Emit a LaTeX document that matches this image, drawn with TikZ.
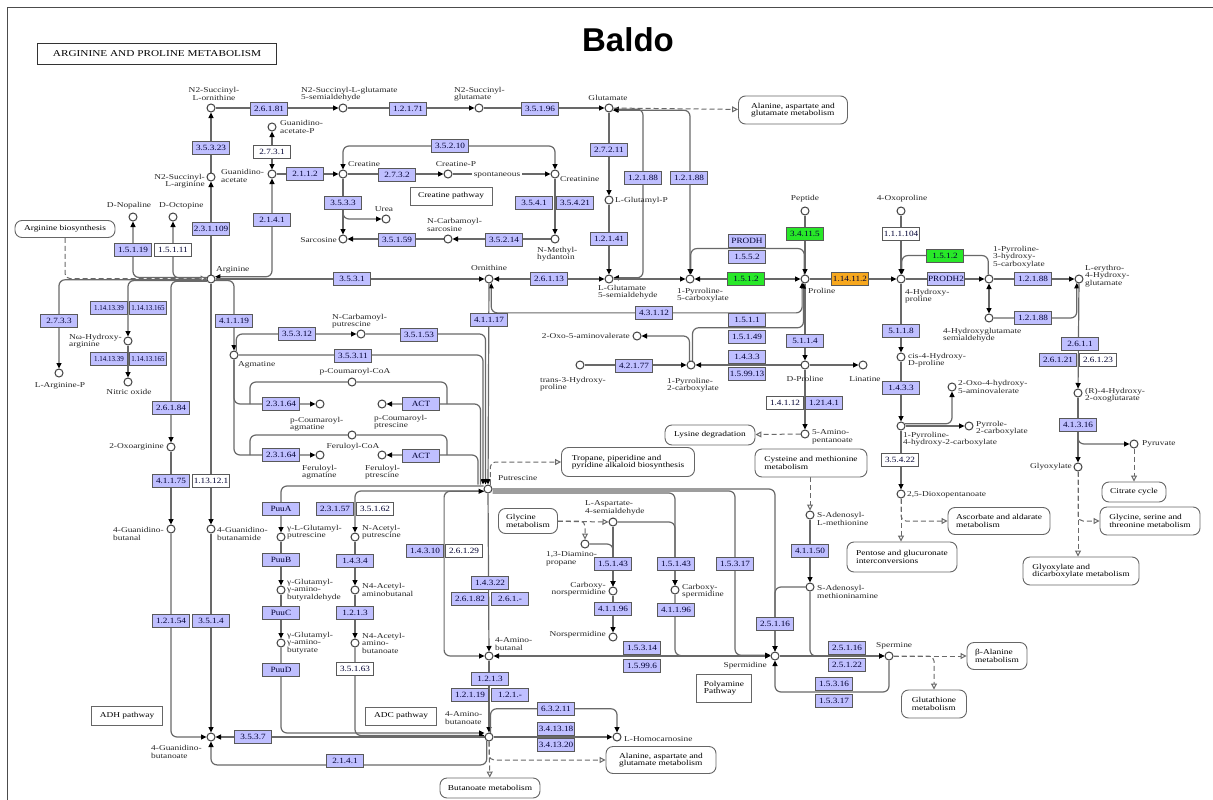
\documentclass[tikz,border=0pt]{standalone}
\usepackage{fontspec}
\setmainfont{Liberation Serif}[FakeStretch=1.25]
\newfontfamily\ecfont{Liberation Serif}[FakeStretch=1.15]
\newfontfamily\ecnarrowfont{Liberation Serif}[FakeStretch=0.92]
\newfontfamily\titlefont{Liberation Sans}
\usetikzlibrary{arrows.meta,backgrounds}

\definecolor{ecblue}{RGB}{191,191,255}
\definecolor{ecgreen}{RGB}{40,232,40}
\definecolor{ecorange}{RGB}{247,168,30}
\definecolor{linegray}{RGB}{105,105,105}

\tikzset{%
		every cpd/.style={
			circle,
			draw=black!75,
			fill=white,
			line width=1pt,
			minimum size=8pt,
			inner sep=0pt
		},
		every ec/.style={
			rectangle,
			draw=black!65,
			fill=ecblue,
			line width=0.8pt,
			minimum width=37pt,
			minimum height=13pt,
			inner sep=0pt,
			text=black!80!blue,
			font=\ecfont\fontsize{8}{8}\selectfont
		},
		ec b/.style={},
		ec w/.style={fill=white},
		ec g/.style={fill=ecgreen},
		ec o/.style={fill=ecorange},
		ec n/.style={font=\ecnarrowfont\fontsize{7.6}{7.6}\selectfont},
		cpd text/.style={
			inner sep=0pt,
			text=black!85,
			font=\fontsize{7.5}{7.5}\selectfont
		},
		lbl west/.style={anchor=west, align=left},
		lbl east/.style={anchor=east, align=right},
		lbl center/.style={anchor=center, align=center},
		map box/.style={
			rounded corners=7pt,
			draw=black!60,
			fill=white,
			line width=0.9pt,
			inner sep=0pt,
			align=left,
			font=\fontsize{7.5}{7.5}\selectfont
		},
		plain box/.style={
			draw=black!60,
			fill=white,
			line width=0.9pt,
			inner sep=0pt,
			align=left,
			font=\fontsize{7.5}{7.5}\selectfont
		},
		rxn/.style={draw=linegray, line width=1.2pt, rounded corners=6pt},
		link/.style={
			draw=linegray,
			line width=1pt,
			rounded corners=5pt,
			dash pattern=on 5pt off 3pt,
			-{Triangle[open, length=6pt, width=6pt, fill=white]}
		},
	}

\begin{document}
\begin{tikzpicture}[x=1pt, y=-1pt, >={Triangle[length=5.5pt, width=5pt, color=black]}]
			\useasboundingbox (0,0) rectangle (1213,800);
			
			% frame and title
			\draw[black!70, line width=1pt] (7,800) -- (7,8) -- (1213,8);
			\node[draw=black!80, line width=1.5pt, minimum width=239, minimum height=21, inner sep=0pt,
			font=\fontsize{9}{9}\selectfont] (maptitle) at (157,54) {ARGININE AND PROLINE METABOLISM};
			\node[font=\titlefont\bfseries\fontsize{33}{33}\selectfont] (baldo) at (628,40) {Baldo};
			
			% draw enzyme boxes
			\foreach \n/\x/\y/\txt/\col in {
				e26181/269/109/2.6.1.81/b, e12171/408/109/1.2.1.71/b, e35196/540/109/3.5.1.96/b,
				e27211/609/150/2.7.2.11/b, e12188a/643/178/1.2.1.88/b, e12188b/689/178/1.2.1.88/b,
				e12141/609/239/1.2.1.41/b, e35323/211/148/3.5.3.23/b, e231109/211/229/2.3.1.109/b,
				e2731/272/152/2.7.3.1/w, e2141a/272/220/2.1.4.1/b, e2112/305/174/2.1.1.2/b,
				e2732/397/175/2.7.3.2/b, e35210/450/146/3.5.2.10/b, e3533/343/203/3.5.3.3/b,
				e35159/397/240/3.5.1.59/b, e35214/504/240/3.5.2.14/b, e3541/534/203/3.5.4.1/b,
				e35421/575/203/3.5.4.21/b, e15119/133/250/1.5.1.19/b, e15111/173/250/1.5.1.11/w,
				e3531/352/279/3.5.3.1/b, e26113/549/279/2.6.1.13/b, e1512a/746/279/1.5.1.2/g,
				eprodh/747/241/PRODH/b, e1552/747/257/1.5.5.2/b, e34115/805/234/3.4.11.5/g,
				e114112/850/279/1.14.11.2/o, e111104/901/234/1.1.1.104/w, e1512b/945/256/1.5.1.2/g,
				eprodhb/946/279/PRODH2/b, e12188c/1033/279/1.2.1.88/b, e12188d/1033/318/1.2.1.88/b,
				e2611/1080/344/2.6.1.1/b, e26121/1058/360/2.6.1.21/b, e26123/1098/360/2.6.1.23/w,
				e41316/1078/425/4.1.3.16/b, e5118/901/331/5.1.1.8/b, e1433a/901/388/1.4.3.3/b,
				e35422/900/460/3.5.4.22/w, e5114/805/341/5.1.1.4/b, e14112/785/403/1.4.1.12/w,
				e121041/824/403/1.21.4.1/b, e43112/654/313/4.3.1.12/b, e1511/747/320/1.5.1.1/b,
				e15149/747/337/1.5.1.49/b, e1433b/747/357/1.4.3.3/b, e159913/747/374/1.5.99.13/b,
				e42177/634/366/4.2.1.77/b, e41150/810/551/4.1.1.50/b, e2733/59/321/2.7.3.3/b,
				e1141339a/109/308/1.14.13.39/n, e11413165a/148/308/1.14.13.165/n,
				e1141339b/109/359/1.14.13.39/n, e11413165b/148/359/1.14.13.165/n,
				e26184/171/408/2.6.1.84/b, e41175/171/481/4.1.1.75/b, e113121/211/481/1.13.12.1/w,
				e12154/171/621/1.2.1.54/b, e3514/211/621/3.5.1.4/b, e3537/253/737/3.5.3.7/b,
				e2141b/345/761/2.1.4.1/b, e41119/234/321/4.1.1.19/b, e35312/297/334/3.5.3.12/b,
				e35153/419/335/3.5.1.53/b, e35311/353/356/3.5.3.11/b, e41117/489/320/4.1.1.17/b,
				e23164a/281/404/2.3.1.64/b, eacta/421/404/ACT/b, e23164b/281/455/2.3.1.64/b,
				eactb/421/456/ACT/b, epuua/281/509/PuuA/b, e23157/335/509/2.3.1.57/b,
				e35162/375/509/3.5.1.62/w, epuub/281/560/PuuB/b, epuuc/281/613/PuuC/b,
				epuud/281/670/PuuD/b, e1434/355/561/1.4.3.4/b, e1213a/355/613/1.2.1.3/b,
				e35163/355/669/3.5.1.63/w, e14310/425/551/1.4.3.10/b, e26129/464/551/2.6.1.29/w,
				e14322/490/583/1.4.3.22/b, e26182/470/599/2.6.1.82/b, e261x/510/599/2.6.1.-/b,
				e1213b/490/679/1.2.1.3/b, e12119/470/695/1.2.1.19/b, e121x/510/695/1.2.1.-/b,
				e63211/556/709/6.3.2.11/b, e341318/556/729/3.4.13.18/b, e341320/556/745/3.4.13.20/b,
				e15143a/613/564/1.5.1.43/b, e41196a/613/609/4.1.1.96/b, e15143b/676/564/1.5.1.43/b,
				e41196b/676/610/4.1.1.96/b, e15317a/735/564/1.5.3.17/b, e25116a/775/624/2.5.1.16/b,
				e15314/642/648/1.5.3.14/b, e15996/642/666/1.5.99.6/b, e25116b/847/648/2.5.1.16/b,
				e25122/847/665/2.5.1.22/b, e15316/834/684/1.5.3.16/b, e15317b/834/701/1.5.3.17/b}
			\node [every ec/.try, ec \col/.try] (\n) at (\x,\y) {\txt};
			
			% draw compounds
			\foreach \n/\x/\y in {
				sorn/211/108, sgsa/343/108, sglu/479/108, glu/609/108, garg/211/177,
				gaap/272/127, gaa/272/174, crt/343/174, crtp/448/174, crn/555/174,
				urea/386/219, sar/343/239, ncs/448/239, nmh/555/239, glup/609/200,
				nop/133/217, oct/173/217, arg/211/279, orn/489/279, gsa/609/279,
				p5c/690/279, pro/805/279, pep/805/211, oxp/901/211, hyp/901/279,
				p3h/989/279, ery/1079/279, hgs/989/318, hog/1078/393, glx/1078/467,
				pyr/1134/444, chp/901/357, p4h/901/426, oha/952/387, pyc/969/426,
				dox/901/494, dpro/805/365, lin/863/365, p2c/691/365, oxv/637/336,
				t3h/580/365, ama/805/434, sam/810/515, sama/810/587, argp/59/373,
				nha/128/341, no/128/382, oxa/171/447, gbal/171/529, gbam/211/529,
				gbat/211/737, agm/234/355, ncp/361/334, pcoa/352/382, pca/320/404,
				pcp/382/404, fcoa/352/435, fa/320/455, fp/382/455, put/488/489,
				glp/281/537, ggb/281/590, gga/281/643, acp/355/537, aab/355/590,
				aabt/355/643, asp/613/522, dap/585/544, cnsp/613/591, nspd/613/637,
				cspd/675/590, spd/775/656, spm/889/656, gabal/489/656, gaba/489/737,
				hcar/617/737}
			\node [every cpd/.try] (\n) at (\x,\y) {};
			
			% annotate compounds
			\foreach \n/\anc/\x/\y/\txt in {
				sorn/center/214/94/{N2-Succinyl-\\L-ornithine},
				sgsa/west/301/94/{N2-Succinyl-L-glutamate\\5-semialdehyde},
				sglu/west/454/94/{N2-Succinyl-\\glutamate},
				glu/center/608/98/Glutamate,
				gaap/west/280/127/{Guanidino-\\acetate-P},
				gaa/west/221/176/{Guanidino-\\acetate},
				garg/east/205/181/{N2-Succinyl-\\L-arginine},
				crt/west/348/164/Creatine, crtp/center/456/164/Creatine-P,
				crn/west/560/179/Creatinine, urea/center/384/209/Urea,
				sar/east/337/240/Sarcosine,
				ncs/west/427/225/{N-Carbamoyl-\\sarcosine},
				nmh/west/537/254/{N-Methyl-\\hydantoin},
				glup/west/615/201/L-Glutamyl-P,
				nop/center/129/206/D-Nopaline, oct/west/159/206/D-Octopine,
				arg/west/216/270/Arginine, orn/center/489/268/Ornithine,
				gsa/west/598/292/{L-Glutamate\\5-semialdehyde},
				p5c/west/677/295/{1-Pyrroline-\\5-carboxylate},
				pro/west/808/291/Proline, pep/center/805/199/Peptide,
				oxp/center/902/199/4-Oxoproline,
				hyp/west/905/296/{4-Hydroxy-\\proline},
				p3h/west/993/257/{1-Pyrroline-\\3-hydroxy-\\5-carboxylate},
				ery/west/1085/276/{L-erythro-\\4-Hydroxy-\\glutamate},
				hgs/west/943/335/{4-Hydroxyglutamate\\semialdehyde},
				hog/west/1085/395/{(R)-4-Hydroxy-\\2-oxoglutarate},
				glx/east/1072/467/Glyoxylate, pyr/west/1142/444/Pyruvate,
				chp/west/908/360/{cis-4-Hydroxy-\\D-proline},
				p4h/west/903/439/{1-Pyrroline-\\4-hydroxy-2-carboxylate},
				oha/west/958/387/{2-Oxo-4-hydroxy-\\5-aminovalerate},
				pyc/west/976/428/{Pyrrole-\\2-carboxylate},
				dox/west/907/495/{2,5-Dioxopentanoate},
				dpro/center/805/379/D-Proline, lin/center/865/379/Linatine,
				p2c/west/667/385/{1-Pyrroline-\\2-carboxylate},
				oxv/east/630/336/2-Oxo-5-aminovalerate,
				t3h/west/540/384/{trans-3-Hydroxy-\\proline},
				ama/west/812/437/{5-Amino-\\pentanoate},
				sam/west/817/519/{S-Adenosyl-\\L-methionine},
				sama/west/817/592/{S-Adenosyl-\\methioninamine},
				argp/center/60/386/L-Arginine-P,
				nha/west/69/341/{Nω-Hydroxy-\\arginine},
				no/center/129/392/Nitric oxide,
				oxa/east/164/447/2-Oxoarginine,
				gbal/west/113/534/{4-Guanidino-\\butanal},
				gbam/west/217/534/{4-Guanidino-\\butanamide},
				gbat/west/151/752/{4-Guanidino-\\butanoate},
				agm/west/238/365/Agmatine,
				ncp/west/332/321/{N-Carbamoyl-\\putrescine},
				pcoa/center/355/372/p-Coumaroyl-CoA,
				pca/west/290/424/{p-Coumaroyl-\\agmatine},
				pcp/west/374/422/{p-Coumaroyl-\\ptrescine},
				fcoa/center/353/447/Feruloyl-CoA,
				fa/west/302/472/{Feruloyl-\\agmatine},
				fp/west/365/472/{Feruloyl-\\ptrescine},
				put/west/498/478/Putrescine,
				glp/west/287/532/{γ-L-Glutamyl-\\putrescine},
				ggb/west/287/590/{γ-Glutamyl-\\γ-amino-\\butyraldehyde},
				gga/west/287/643/{γ-Glutamyl-\\γ-amino-\\butyrate},
				acp/west/362/532/{N-Acetyl-\\putrescine},
				aab/west/362/590/{N4-Acetyl-\\aminobutanal},
				aabt/west/362/643/{N4-Acetyl-\\amino-\\butanoate},
				asp/west/585/508/{L-Aspartate-\\4-semialdehyde},
				dap/west/546/559/{1,3-Diamino-\\propane},
				cnsp/east/606/589/{Carboxy-\\norspermidine},
				nspd/east/606/635/Norspermidine,
				cspd/west/682/591/{Carboxy-\\spermidine},
				spd/east/767/666/Spermidine, spm/west/876/646/Spermine,
				gabal/west/495/644/{4-Amino-\\butanal},
				gaba/west/445/718/{4-Amino-\\butanoate},
				hcar/west/624/739/L-Homocarnosine}
			\node [cpd text, lbl \anc] (t-\n) at (\x,\y) {\txt};
			\node [cpd text, fill=white, inner sep=1.5pt] (spont) at (497,175) {spontaneous};
			
			% draw map links
			\foreach \n/\x/\y/\bw/\bh/\txt in {
				alamap/793/110/109/28/{Alanine, aspartate and\\glutamate metabolism},
				argbio/65/229/100/17/Arginine biosynthesis,
				lysdeg/710/435/90/20/Lysine degradation,
				cysmet/811/463/112/28/{Cysteine and methionine\\metabolism},
				tropane/628/462/133/29/{Tropane, piperidine and\\pyridine alkaloid biosynthesis},
				glymet/528/521/59/25/{Glycine\\metabolism},
				ascmet/999/521/102/27/{Ascorbate and aldarate\\metabolism},
				pentose/902/557/110/30/{Pentose and glucuronate\\interconversions},
				citrate/1134/492/64/20/Citrate cycle,
				glyser/1150/521/100/28/{Glycine, serine and\\threonine metabolism},
				glyoxm/1081/571/116/28/{Glyoxylate and\\dicarboxylate metabolism},
				balamet/997/656/60/27/{β-Alanine\\metabolism},
				gsh/934/704/65/28/{Glutathione\\metabolism},
				butmet/490/788/100/20/Butanoate metabolism,
				alamapb/661/760/110/27/{Alanine, aspartate and\\glutamate metabolism}}
			\node [map box, minimum width=\bw, minimum height=\bh] (\n) at (\x,\y) {\txt};
			
			% draw pathway notes
			\foreach \n/\x/\y/\bw/\bh/\txt in {
				crpath/451/196/82/18/Creatine pathway,
				adh/127/716/71/19/ADH pathway,
				adc/401/716/71/18/ADC pathway,
				polyam/724/688/55/28/{Polyamine\\Pathway}}
			\node [plain box, minimum width=\bw, minimum height=\bh] (\n) at (\x,\y) {\txt};
			
			% junctions of the acyl-CoA side chains
			\coordinate (j-pca) at (250,404);
			\coordinate (j-pcp) at (447,404);
			\coordinate (j-fa) at (250,455);
			\coordinate (j-fp) at (447,455);
			
			\begin{pgfonlayer}{background}
			\fill[white] (0,0) rectangle (1213,800);
			
			% succinyl route and creatine
			\draw[rxn,->] (sorn) -- (sgsa);
			\draw[rxn,->] (sgsa) -- (sglu);
			\draw[rxn,->] (sglu) -- (glu);
			\draw[rxn,->] (garg) -- (sorn);
			\draw[rxn,->] (arg) -- (garg);
			\draw[rxn,<->] (gaa) -- (gaap);
			\draw[rxn,<->] (gaa) |- (arg.30);
			\draw[rxn,->] (gaa) -- (crt);
			\draw[rxn,->] (crt) -- (crtp);
			\draw[rxn,->] (crtp) -- (crn);
			\draw[rxn,<->] (crt) -- ++(0,-28) -| (crn);
			\draw[rxn,->] (crt) -- (sar);
			\draw[rxn,->] (crt) |- (urea);
			\draw[rxn,->] (ncs) -- (sar);
			\draw[rxn,->] (nmh) -- (ncs);
			\draw[rxn,->] (crn) -- (nmh);
			
			% glutamate, ornithine and proline
			\draw[rxn,->] (glu) -- (glup);
			\draw[rxn,->] (glup) -- (gsa);
			\draw[rxn,<->] (glu.-15) -| (e12188a.center) |- (gsa.15);
			\draw[rxn,<->] (glu.-30) -| (p5c);
			\draw[link] (glu) -- (alamap);
			\draw[rxn,->] (gsa) -- (p5c);
			\draw[rxn,<->] (orn) -- (gsa);
			\draw[rxn,->] (arg) -- (orn);
			\draw[rxn,<->] (p5c) -- (pro);
			\draw[rxn,->] (pro.100) -- ++(0,-26) -| (p5c.80);
			\draw[rxn,->] (pep) -- (pro);
			\draw[rxn,->] (pro) -- (hyp);
			\draw[rxn,->] (oxp) -- (hyp);
			\draw[rxn,->] (hyp) -- (p3h);
			\draw[rxn,->] (p3h.100) -- ++(0,-19) -| (hyp.80);
			\draw[rxn,->] (p3h) -- (ery);
			\draw[rxn,<->] (p3h) -- (hgs);
			\draw[rxn,->] (hgs) -| (ery.-120);
			\draw[rxn,->] (ery) -- (hog);
			\draw[rxn,->] (hog) -- (glx);
			\draw[rxn,->] (hog) |- (pyr);
			\draw[link] (pyr) -- (citrate);
			\draw[link] (glx) -- (glx |- glyoxm.north);
			\draw[link] (glx) |- (glyser);
			\draw[rxn,->] (hyp) -- (chp);
			\draw[rxn,->] (chp) -- (p4h);
			\draw[rxn,->] (p4h.30) -| (oha);
			\draw[rxn,->] (p4h) -- (pyc);
			\draw[rxn,->] (p4h) -- (dox);
			\draw[link] (dox) -- (dox |- pentose.north);
			\draw[link] (dox) |- (ascmet);
			\draw[rxn,->] (pro) -- (dpro);
			\draw[rxn,->] (dpro) -- (lin);
			\draw[rxn,->] (dpro) -- (p2c);
			\draw[rxn,->] (t3h) -- (p2c);
			\draw[rxn,->] (p2c.110) |- (oxv);
			\draw[rxn,->] (p2c.70) -- ++(0,-33) -| (pro.-110);
			\draw[rxn,<->] (orn.-60) -- ++(0,30) -| (pro.-130);
			\draw[rxn,->] (dpro) -- (ama);
			\draw[link] (ama) -- (lysdeg);
			\draw[link] (cysmet.south -| sam) -- (sam);
			\draw[rxn,->] (sam) -- (sama);
			\draw[rxn,->] (sama) -| (spd);
			\draw[rxn,->] (sama) |- (spm);
			\draw[rxn,->] (spd) -- (spm);
			\draw[rxn,->] (spm) -- ++(0,36) -| (spd);
			\draw[link] (spm) -- (balamet);
			\draw[link] (spm) -| (gsh);
			
			% arginine side routes
			\draw[rxn,->] (arg.-170) -| (argp);
			\draw[rxn,->] (arg.-160) -| (nha);
			\draw[rxn,->] (nha) -- (no);
			\draw[rxn,->] (arg.-150) -| (oxa);
			\draw[rxn,->] (oxa) -- (gbal);
			\draw[rxn,->] (gbal) |- (gbat);
			\draw[rxn,->] (arg) -- (gbam);
			\draw[rxn,->] (gbam) -- (gbat);
			\draw[rxn,->] (arg.160) -| (nop);
			\draw[rxn,->] (arg.165) -| (oct);
			\draw[link] (argbio) |- (arg.175);
			
			% agmatine to putrescine
			\draw[rxn,->] (arg.-20) -| (agm);
			\draw[rxn,->] (agm.60) |- (ncp);
			\draw[rxn,->] (ncp) -| ([xshift=-2.5pt]put.north);
			\draw[rxn,->] (agm) -| ([xshift=-5pt]put.north);
			\draw[rxn,->] (agm) |- (pca);
			\draw[rxn,->] (agm) |- (fa);
			\draw[rxn] (pcoa) -| (j-pca);
			\draw[rxn] (pcoa) -| (j-pcp);
			\draw[rxn] (fcoa) -| (j-fa);
			\draw[rxn] (fcoa) -| (j-fp);
			\draw[rxn,->] ([xshift=-7.5pt]put.north) |- (pcp);
			\draw[rxn,->] ([xshift=-10pt]put.north) |- (fp);
			\draw[rxn,->] (orn) -- (put);
			\draw[link] (put.60) |- (tropane);
			
			% putrescine downstream
			\draw[rxn,->] ([yshift=3pt]put.west) -| (glp);
			\draw[rxn,->] ([yshift=-2pt]put.west) -| (acp);
			\draw[rxn,->] (glp) -- (ggb);
			\draw[rxn,->] (ggb) -- (gga);
			\draw[rxn,->] (gga) |- ([yshift=4pt]gaba.west);
			\draw[rxn,->] (acp) -- (aab);
			\draw[rxn,->] (aab) -- (aabt);
			\draw[rxn,->] (aabt) |- ([yshift=1.5pt]gaba.west);
			\draw[rxn,->] (gaba) -- (gbat);
			\draw[rxn,->] (gaba.-120) -- ++(0,24) -| (gbat);
			\draw[rxn,->] (put) -- (gabal);
			\draw[rxn,<->] (put.-150) -- ++(-40,0) |- (gabal);
			\draw[rxn,->] (gabal) -- (gaba);
			\draw[rxn,<->] (gabal) -- (spd);
			\draw[rxn,->] (gaba) -- (hcar);
			\draw[rxn,->] (gaba.70) -- ++(0,-24) -| (hcar);
			\draw[link] (gaba) -- (butmet);
			\draw[link] (gaba) |- (alamapb);
			
			% polyamines
			\draw[link] (glymet) -- (asp);
			\draw[link] (glymet) -| (dap);
			\draw[rxn,->] (asp) -- (cnsp);
			\draw[rxn,->] (dap) -| (cnsp);
			\draw[rxn,->] (cnsp) -- (nspd);
			\draw[rxn,->] (asp) -| (cspd);
			\draw[rxn,->] ([yshift=-4pt]put.east) -| (cspd);
			\draw[rxn,->] (cspd) |- (spd.175);
			\draw[rxn,->] ([yshift=-2pt]put.east) -| (e15317a.center) |- (spd.170);
			\draw[rxn,->] (put.east) -| (spd);
			\end{pgfonlayer}
			\end{tikzpicture}
\end{document}
